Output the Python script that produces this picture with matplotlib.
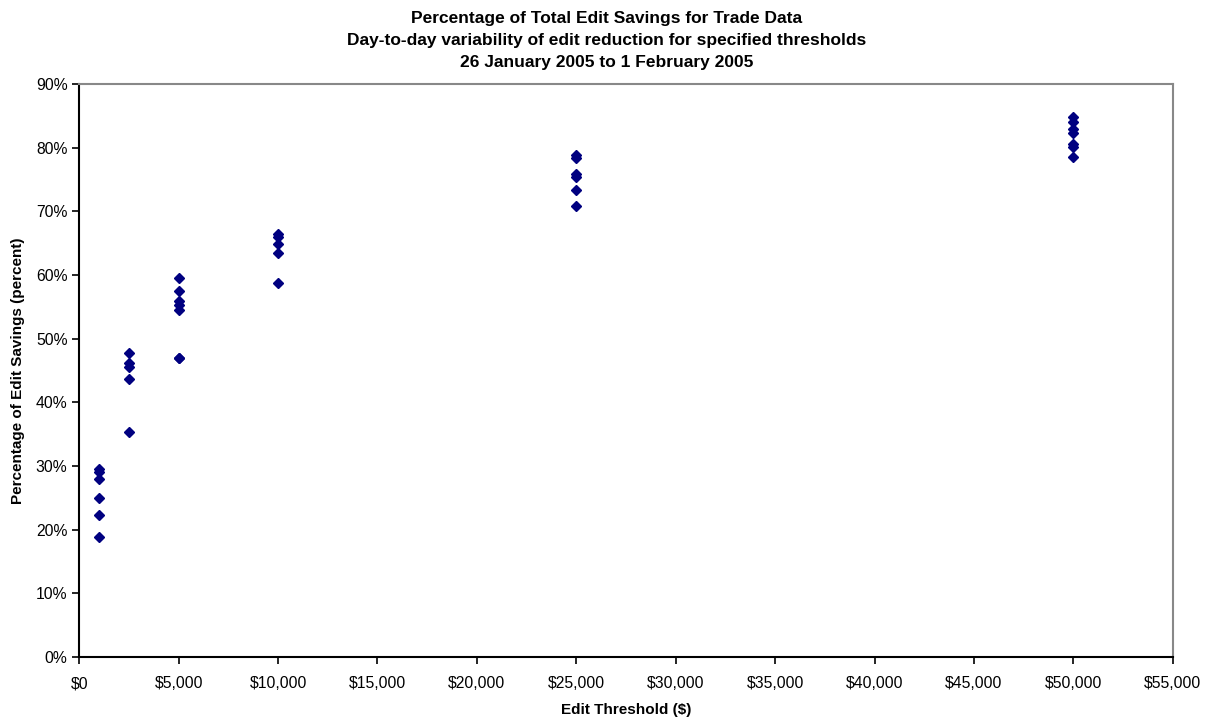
import matplotlib
matplotlib.use("Agg")
import matplotlib.pyplot as plt
import numpy as np
from matplotlib.ticker import FuncFormatter

plt.rcParams['font.family'] = ['Liberation Sans', 'DejaVu Sans']

# --- data: edit savings (%) by threshold, one value per day ---
thresholds = [1000, 2500, 5000, 10000, 25000, 50000]
savings = {
    1000: [29.6, 29.1, 27.9, 25.0, 22.3, 18.8],
    2500: [47.7, 46.1, 45.5, 43.7, 35.4],
    5000: [59.6, 57.5, 55.9, 55.3, 54.5, 47.0, 46.9],
    10000: [66.5, 66.0, 64.8, 63.5, 58.7],
    25000: [78.9, 78.3, 75.9, 75.4, 73.3, 70.8],
    50000: [84.8, 84.0, 83.0, 82.3, 80.6, 80.1, 78.5],
}

title_lines = ["Percentage of Total Edit Savings for Trade Data",
               "Day-to-day variability of edit reduction for specified thresholds",
               "26 January 2005 to 1 February 2005"]

xs, ys = [], []
for t in thresholds:
    for v in savings[t]:
        xs.append(t)
        ys.append(v)

fig = plt.figure(figsize=(12.14, 7.18), dpi=100)
ax = fig.add_axes([0.0653, 0.085, 0.9007, 0.798])

ax.plot(xs, ys, linestyle='none', marker='D', markersize=5.5,
        color='#000080', markeredgecolor='#000080')

ax.set_xlim(0, 55000)
ax.set_ylim(0, 90)
ax.set_xticks(np.arange(0, 55001, 5000))
ax.set_yticks(np.arange(0, 91, 10))
ax.xaxis.set_major_formatter(FuncFormatter(lambda v, p: f"${v:,.0f}"))
ax.yaxis.set_major_formatter(FuncFormatter(lambda v, p: f"{v:.0f}%"))
ax.tick_params(direction='out', length=5, width=1.2, labelsize=11.3, colors='black')
ax.tick_params(axis='x', pad=9)

for s in ['left', 'bottom']:
    ax.spines[s].set_color('black')
    ax.spines[s].set_linewidth(1.5)
for s in ['top', 'right']:
    ax.spines[s].set_color('#888888')
    ax.spines[s].set_linewidth(1.5)

ax.set_xlabel("Edit Threshold ($)", fontsize=11, fontweight='bold', labelpad=8)
ax.set_ylabel("Percentage of Edit Savings (percent)", fontsize=11, fontweight='bold', labelpad=8)
fig.text(0.5, 0.984, "\n".join(title_lines), ha='center', va='top',
         fontsize=12.5, fontweight='bold', linespacing=1.55)

fig.savefig("out.png", dpi=100)
